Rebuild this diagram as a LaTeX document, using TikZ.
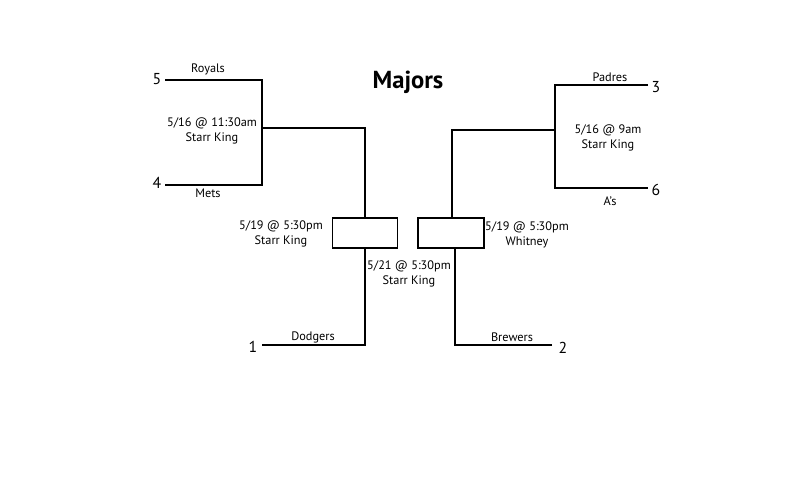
\documentclass[tikz,border=0pt]{standalone}
\usepackage{fontspec}
\setmainfont{PT Sans}
\begin{document}
\begin{tikzpicture}[x=0.02cm,y=-0.02cm]
\tikzstyle{every node}+=[inner sep=0pt, font=\fontsize{7}{8.5}\selectfont, align=center]
\tikzstyle{bline}=[black, line width=1.1pt]
\useasboundingbox (0,0) rectangle (805,500);

\node (title) at (408,82) {\fontsize{14}{16}\selectfont\bfseries Majors};

% left side
\coordinate (royA) at (165,80);
\coordinate (royB) at (262,80);
\coordinate (metA) at (165,185);
\coordinate (metB) at (262,185);
\coordinate (lmA) at (262,128);
\coordinate (lmB) at (365,128);
\node[draw, bline, minimum width=1.3cm, minimum height=0.6cm] (lbox) at (365,233) {};
\coordinate (dodA) at (262,345);
\coordinate (dodB) at (365,345);
\draw [bline] (royA) -- (royB) -- (metB) -- (metA);
\draw [bline] (lmA) -- (lmB) -- (lmB |- lbox.north);
\draw [bline] (dodA) -- (dodB) -- (dodB |- lbox.south);

% right side
\coordinate (padA) at (648,85);
\coordinate (padB) at (555,85);
\coordinate (asA) at (648,188);
\coordinate (asB) at (555,188);
\coordinate (rmA) at (555,130);
\coordinate (rmB) at (452,130);
\node[draw, bline, minimum width=1.32cm, minimum height=0.6cm] (rbox) at (451,233) {};
\coordinate (brwA) at (552,345);
\coordinate (brwB) at (455,345);
\draw [bline] (padA) -- (padB) -- (asB) -- (asA);
\draw [bline] (rmA) -- (rmB) -- (rmB |- rbox.north);
\draw [bline] (brwA) -- (brwB) -- (brwB |- rbox.south);

% labels
\node (s5) at (157,79) {\fontsize{9}{10}\selectfont 5};
\node (royals) at (208,69) {Royals};
\node (s4) at (157,183) {\fontsize{9}{10}\selectfont 4};
\node (mets) at (208,193) {Mets};
\node (g1) at (212,131) {5/16 @ 11:30am\\Starr King};
\node (padres) at (610,77) {Padres};
\node (s3) at (656,87) {\fontsize{9}{10}\selectfont 3};
\node (g2) at (608,138) {5/16 @ 9am\\Starr King};
\node (as) at (610,201) {A's};
\node (s6) at (656,190) {\fontsize{9}{10}\selectfont 6};
\node (g3) at (281,234) {5/19 @ 5:30pm\\Starr King};
\node (g4) at (527,235) {5/19 @ 5:30pm\\Whitney};
\node (g5) at (409,274) {5/21 @ 5:30pm\\Starr King};
\node (s1) at (253,347) {\fontsize{9}{10}\selectfont 1};
\node (dodgers) at (313,337) {Dodgers};
\node (s2) at (563,348) {\fontsize{9}{10}\selectfont 2};
\node (brewers) at (512,337) {Brewers};
\end{tikzpicture}
\end{document}
